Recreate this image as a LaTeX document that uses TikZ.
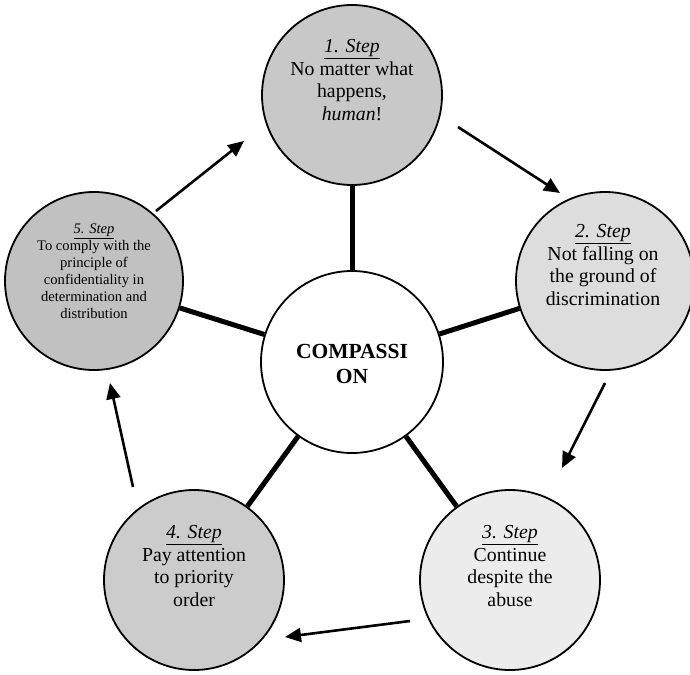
\documentclass[tikz,border=0pt]{standalone}
\usepackage{fontspec}
\setmainfont{Liberation Serif}
\usetikzlibrary{arrows.meta}
\definecolor{g1}{RGB}{200,200,200}
\definecolor{g2}{RGB}{221,221,221}
\definecolor{g3}{RGB}{236,236,236}
\definecolor{g4}{RGB}{204,204,204}
\definecolor{g5}{RGB}{193,193,193}
\tikzset{
  stepcircle/.style={circle, draw=black, line width=1.8pt, inner sep=0pt, minimum size=#1},
  spoke/.style={line width=5pt},
  flow/.style={line width=2.6pt, -{Triangle[length=16pt,width=14pt]}},
  bigtxt/.style={align=center, font=\fontsize{19.8}{22.4}\selectfont, inner sep=0pt},
  smalltxt/.style={align=center, font=\fontsize{14.6}{16.9}\selectfont, inner sep=0pt}
}
\begin{document}
\begin{tikzpicture}[x=1pt,y=-1pt]
\useasboundingbox (0,0) rectangle (690,674);
% circles
\node[stepcircle=182pt, fill=white] (c) at (352,362) {};
\node[stepcircle=180pt, fill=g1] (s1) at (352,95) {};
\node[stepcircle=178pt, fill=g2] (s2) at (605,281) {};
\node[stepcircle=180pt, fill=g3] (s3) at (510,580) {};
\node[stepcircle=180pt, fill=g4] (s4) at (194,580) {};
\node[stepcircle=178pt, fill=g5] (s5) at (94,281) {};
% spokes
\draw[spoke] (c) -- (s1);
\draw[spoke] (c) -- (s2);
\draw[spoke] (c) -- (s3);
\draw[spoke] (c) -- (s4);
\draw[spoke] (c) -- (s5);
% texts
\node[bigtxt, font=\bfseries\fontsize{21.5}{25.5}\selectfont] (tc) at (352,364) {COMPASSI\\ON};
\node[bigtxt] (t1) at (352,80) {\underline{\textit{1. Step}}\\No matter what\\happens,\\\textit{human}!};
\node[bigtxt] (t2) at (603,265) {\underline{\textit{2. Step}}\\Not falling on\\the ground of\\discrimination};
\node[bigtxt] (t3) at (510,566) {\underline{\textit{3. Step}}\\Continue\\despite the\\abuse};
\node[bigtxt] (t4) at (194,566) {\underline{\textit{4. Step}}\\Pay attention\\to priority\\order};
\node[smalltxt] (t5) at (94,271) {\underline{\textit{5. Step}}\\To comply with the\\principle of\\confidentiality in\\determination and\\distribution};
% arrow end points
\coordinate (a1s) at (458,127);
\coordinate (a1e) at (560,193);
\coordinate (a2s) at (605,383);
\coordinate (a2e) at (562,468);
\coordinate (a3s) at (410,621);
\coordinate (a3e) at (285,637);
\coordinate (a4s) at (133,487);
\coordinate (a4e) at (110,383);
\coordinate (a5s) at (156,211);
\coordinate (a5e) at (244,141);
\draw[flow] (a1s) -- (a1e);
\draw[flow] (a2s) -- (a2e);
\draw[flow] (a3s) -- (a3e);
\draw[flow] (a4s) -- (a4e);
\draw[flow] (a5s) -- (a5e);
\end{tikzpicture}
\end{document}
